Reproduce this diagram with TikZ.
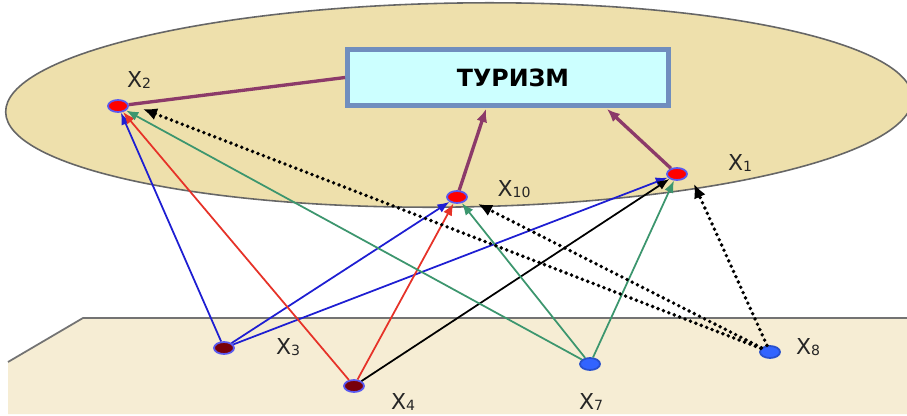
\documentclass[tikz,border=0pt]{standalone}
\usepackage{fontspec}
\setmainfont{DejaVu Sans}
\usetikzlibrary{shapes.geometric,arrows.meta}
\definecolor{ellfill}{RGB}{238,224,172}
\definecolor{planefill}{RGB}{246,237,212}
\definecolor{boxfill}{RGB}{204,255,255}
\definecolor{boxborder}{RGB}{112,142,190}
\definecolor{purp}{RGB}{140,58,105}
\definecolor{lblue}{RGB}{30,30,210}
\definecolor{lred}{RGB}{230,50,40}
\definecolor{lgreen}{RGB}{60,150,110}
\definecolor{nodeedge}{RGB}{90,90,240}
\definecolor{darkred}{RGB}{120,0,10}
\definecolor{nblue}{RGB}{50,100,255}
\newcommand\xs[1]{X\raisebox{-0.6pt}{\fontsize{8}{9}\selectfont #1}}
\begin{document}
\begin{tikzpicture}[x=0.02cm,y=-0.02cm,
 vtx/.style={ellipse, minimum width=0.4cm, minimum height=0.24cm, inner sep=0pt, line width=1pt},
 rednode/.style={vtx, fill=red, draw=nodeedge},
 darknode/.style={vtx, fill=darkred, draw=nodeedge},
 bluenode/.style={vtx, fill=nblue, draw=nblue!80!black},
 lbl/.style={inner sep=0pt, font=\fontsize{12.5}{14}\selectfont, text=black!85},
 link/.style={line width=1pt, -{Latex[length=2.4mm,width=1.9mm]}},
 dotlink/.style={line width=2.2pt, dash pattern=on 0pt off 3.3pt, line cap=round, -{Latex[length=2.8mm,width=2.5mm]}},
 mainlink/.style={purp, line width=1.9pt, -{Latex[length=2.6mm,width=2.2mm]}},
 box/.style={draw=boxborder, fill=boxfill, line width=2.8pt, minimum width=6.42cm, minimum height=1.12cm, font=\bfseries\fontsize{13.5}{15}\selectfont}
]
\useasboundingbox (0,0) rectangle (907,416);
\fill[white] (0,0) rectangle (907,416);
% upper ellipse
\draw[rotate around={0.9:(459,104)}, fill=ellfill, draw=black!60, line width=0.9pt] (459,105) ellipse [x radius=9.07cm, y radius=2.04cm];
% lower plane
\fill[planefill] (83,318) -- (907,318) -- (907,414) -- (8,414) -- (8,362) -- cycle;
\draw[black!55, line width=1pt] (8,362) -- (83,318) -- (907,318);
% box
\node[box] (box) at (508,77.5) {\hspace{0.2cm}ТУРИЗМ};
% nodes
\node[rednode] (X2) at (118,106) {};
\node[rednode] (X10) at (457,197) {};
\node[rednode] (X1) at (677,174) {};
\node[darknode] (X3) at (224,348) {};
\node[darknode] (X4) at (354,386) {};
\node[bluenode] (X7) at (590,364) {};
\node[bluenode] (X8) at (770,352) {};
% labels
\node[lbl] (lX2) at (139,80) {\xs{2}};
\node[lbl] (lX10) at (514,189) {\xs{10}};
\node[lbl] (lX1) at (740,163) {\xs{1}};
\node[lbl] (lX3) at (288,347) {\xs{3}};
\node[lbl] (lX4) at (403,402) {\xs{4}};
\node[lbl] (lX7) at (591,402) {\xs{7}};
\node[lbl] (lX8) at (808,347) {\xs{8}};
% helper coordinates
\coordinate (in10) at (486,109);
\coordinate (in1) at (607,109);
\coordinate (d2) at (143,109);
\coordinate (d10) at (478,204);
\coordinate (d1) at (694,184);
% main arrows
\draw[purp, line width=1.9pt] (X2) -- (box.west);
\draw[mainlink] (X10) -- (in10);
\draw[mainlink] (X1) -- (in1);
% influence links
\draw[link, lblue] (X3) -- (X2);
\draw[link, lblue] (X3) -- (X10);
\draw[link, lblue] (X3) -- (X1);
\draw[link, lred] (X4) -- (X2);
\draw[link, lred] (X4) -- (X10);
\draw[link, black] (X4) -- (X1);
\draw[link, lgreen] (X7) -- (X2);
\draw[link, lgreen] (X7) -- (X10);
\draw[link, lgreen] (X7) -- (X1);
\draw[dotlink] (X8) -- (d2);
\draw[dotlink] (X8) -- (d10);
\draw[dotlink] (X8) -- (d1);
\end{tikzpicture}
\end{document}
